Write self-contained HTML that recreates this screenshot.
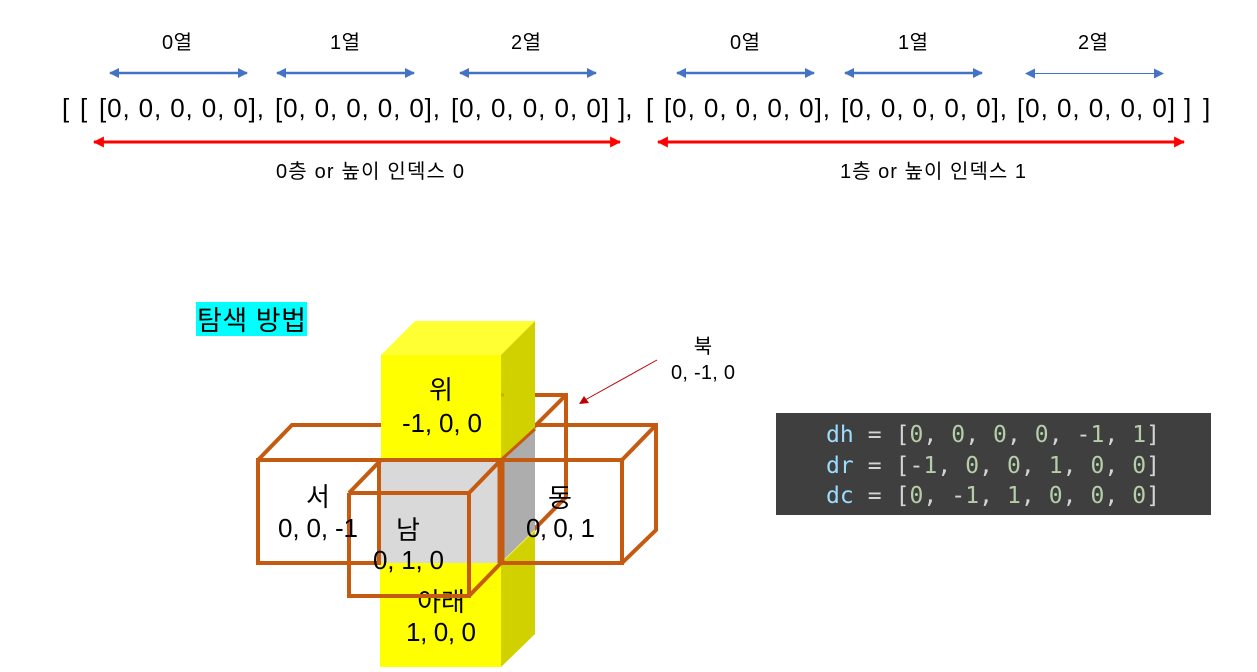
<!DOCTYPE html>
<html><head><meta charset="utf-8"><style>
html,body{margin:0;padding:0;background:#fff}
svg{display:block}
text{font-family:"Liberation Sans","Noto Sans CJK KR",sans-serif;fill:#000}
.m{font-size:26px}
.l{font-size:20px}
.c{font-size:26px}
.code{font-family:"DejaVu Sans Mono","Liberation Mono",monospace;font-size:23px;fill:#d4d4d4}
</style></head><body>
<svg width="1257" height="672" viewBox="0 0 1257 672" xmlns="http://www.w3.org/2000/svg">
<defs>
<marker id="b" viewBox="0 0 10 10" refX="9" refY="5" markerWidth="10" markerHeight="10" markerUnits="userSpaceOnUse" orient="auto-start-reverse"><path d="M0 0L10 5L0 10z" fill="#4472c4"/></marker>
<marker id="r" viewBox="0 0 10 10" refX="9" refY="5" markerWidth="11" markerHeight="11" markerUnits="userSpaceOnUse" orient="auto-start-reverse"><path d="M0 0L10 5L0 10z" fill="#f00"/></marker>
</defs>

<!-- top labels -->
<text class="l" x="162" y="49" textLength="30">0열</text>
<text class="l" x="330" y="49" textLength="30">1열</text>
<text class="l" x="511" y="49" textLength="30">2열</text>
<text class="l" x="730" y="49" textLength="30">0열</text>
<text class="l" x="898" y="49" textLength="30">1열</text>
<text class="l" x="1078" y="49" textLength="30">2열</text>

<g fill="none" stroke="#4472c4" stroke-width="2.5">
<line x1="110" y1="73" x2="247" y2="73" marker-start="url(#b)" marker-end="url(#b)"/>
<line x1="277" y1="73" x2="414" y2="73" marker-start="url(#b)" marker-end="url(#b)"/>
<line x1="460" y1="73" x2="596" y2="73" marker-start="url(#b)" marker-end="url(#b)"/>
<line x1="677" y1="73" x2="814" y2="73" marker-start="url(#b)" marker-end="url(#b)"/>
<line x1="845" y1="73" x2="982" y2="73" marker-start="url(#b)" marker-end="url(#b)"/>
<line x1="1026" y1="73.5" x2="1163" y2="73.5" stroke-width="1" marker-start="url(#b)" marker-end="url(#b)"/>
</g>

<text class="m" x="62" y="117">[</text>
<text class="m" x="80" y="117">[</text>
<text class="m" x="99" y="117" textLength="165" lengthAdjust="spacing">[0, 0, 0, 0, 0],</text>
<text class="m" x="275" y="117" textLength="165" lengthAdjust="spacing">[0, 0, 0, 0, 0],</text>
<text class="m" x="451" y="117" textLength="158" lengthAdjust="spacing">[0, 0, 0, 0, 0]</text>
<text class="m" x="618" y="117">],</text>
<text class="m" x="646" y="117">[</text>
<text class="m" x="664" y="117" textLength="166" lengthAdjust="spacing">[0, 0, 0, 0, 0],</text>
<text class="m" x="841" y="117" textLength="166" lengthAdjust="spacing">[0, 0, 0, 0, 0],</text>
<text class="m" x="1017" y="117" textLength="158" lengthAdjust="spacing">[0, 0, 0, 0, 0]</text>
<text class="m" x="1184" y="117">]</text>
<text class="m" x="1203" y="117">]</text>

<line x1="94" y1="142" x2="620" y2="142" stroke="#f00" stroke-width="3" marker-start="url(#r)" marker-end="url(#r)"/>
<line x1="658" y1="142" x2="1184" y2="142" stroke="#f00" stroke-width="3" marker-start="url(#r)" marker-end="url(#r)"/>

<text class="l" x="276" y="178" textLength="188">0층 or 높이 인덱스 0</text>
<text class="l" x="840" y="178" textLength="186">1층 or 높이 인덱스 1</text>

<!-- title -->
<rect x="196" y="302" width="111" height="34" fill="#00ffff"/>
<text x="197" y="330" font-size="27" textLength="109">탐색 방법</text>

<!-- back box lines -->
<g fill="none" stroke="#c55a11" stroke-width="4">
<path d="M381 425H292L258 460"/>
<path d="M501 395H566V497L501 563"/>
<path d="M566 395L501 460"/>
<path d="M535 425H656V530L622 563"/>
<path d="M622 460L656 425"/>
</g>

<!-- upper cube -->
<polygon points="381,355 415,321 535,321 501,355" fill="#ffff33"/>
<rect x="381" y="355" width="120" height="105" fill="#ffff00"/>
<polygon points="501,355 535,321 535,427 501,460" fill="#d1d100"/>
<!-- middle cube -->
<rect x="380" y="460" width="121" height="103" fill="#d9d9d9"/>
<polygon points="501,460 535,427 535,530 501,563" fill="#adadad"/>
<!-- lower cube -->
<rect x="380" y="563" width="121" height="104" fill="#ffff00"/>
<polygon points="501,563 535,530 535,634 501,667" fill="#d1d100"/>
<line x1="501" y1="563" x2="535" y2="530" stroke="#efef60" stroke-width="1"/>

<!-- line redrawn over the yellow side -->
<path d="M535 429L501 460" fill="none" stroke="#c55a11" stroke-width="3"/>
<path d="M566 395H536" fill="none" stroke="#c55a11" stroke-width="4"/>
<path d="M501 395H504" fill="none" stroke="#c55a11" stroke-width="3" stroke-opacity=".35"/>

<text x="441" y="611" font-size="26" text-anchor="middle">아래</text>

<!-- front box lines -->
<g fill="none" stroke="#c55a11" stroke-width="4">
<rect x="258" y="460" width="121" height="103"/>
<rect x="501" y="460" width="121" height="103"/>
<path d="M349 493V596H469V493H349"/>
<path d="M349 493L381 460H501V563L469 596"/>
<path d="M469 493L501 460"/>
</g>
<line x1="501" y1="460" x2="501" y2="563" stroke="#c55a11" stroke-width="7"/>

<!-- labels -->
<text class="c" x="441" y="399" text-anchor="middle">위</text>
<text class="c" x="402" y="432" textLength="80">-1, 0, 0</text>
<text class="c" x="318" y="506" text-anchor="middle">서</text>
<text class="c" x="278" y="537" textLength="80">0, 0, -1</text>
<text class="c" x="408" y="539" text-anchor="middle">남</text>
<text class="c" x="373" y="569" textLength="71">0, 1, 0</text>
<text class="c" x="406" y="641" textLength="70">1, 0, 0</text>
<text class="c" x="560" y="507" text-anchor="middle">동</text>
<text class="c" x="526" y="537" textLength="69">0, 0, 1</text>

<!-- north -->
<text class="l" x="703" y="353" text-anchor="middle">북</text>
<text class="l" x="671" y="379" textLength="64">0, -1, 0</text>
<line x1="657" y1="360" x2="585" y2="400" stroke="#c00000" stroke-width="1"/>
<polygon points="579,404 584,396 589,403" fill="#c00000"/>

<!-- code -->
<rect x="776" y="413" width="435" height="102" fill="#3f3f3f"/>
<text class="code" x="826" y="442" textLength="334"><tspan fill="#9cdcfe">dh</tspan> = [<tspan fill="#b5cea8">0</tspan>, <tspan fill="#b5cea8">0</tspan>, <tspan fill="#b5cea8">0</tspan>, <tspan fill="#b5cea8">0</tspan>, -<tspan fill="#b5cea8">1</tspan>, <tspan fill="#b5cea8">1</tspan>]</text>
<text class="code" x="826" y="473" textLength="334"><tspan fill="#9cdcfe">dr</tspan> = [-<tspan fill="#b5cea8">1</tspan>, <tspan fill="#b5cea8">0</tspan>, <tspan fill="#b5cea8">0</tspan>, <tspan fill="#b5cea8">1</tspan>, <tspan fill="#b5cea8">0</tspan>, <tspan fill="#b5cea8">0</tspan>]</text>
<text class="code" x="826" y="503" textLength="334"><tspan fill="#9cdcfe">dc</tspan> = [<tspan fill="#b5cea8">0</tspan>, -<tspan fill="#b5cea8">1</tspan>, <tspan fill="#b5cea8">1</tspan>, <tspan fill="#b5cea8">0</tspan>, <tspan fill="#b5cea8">0</tspan>, <tspan fill="#b5cea8">0</tspan>]</text>
</svg>
</body></html>
